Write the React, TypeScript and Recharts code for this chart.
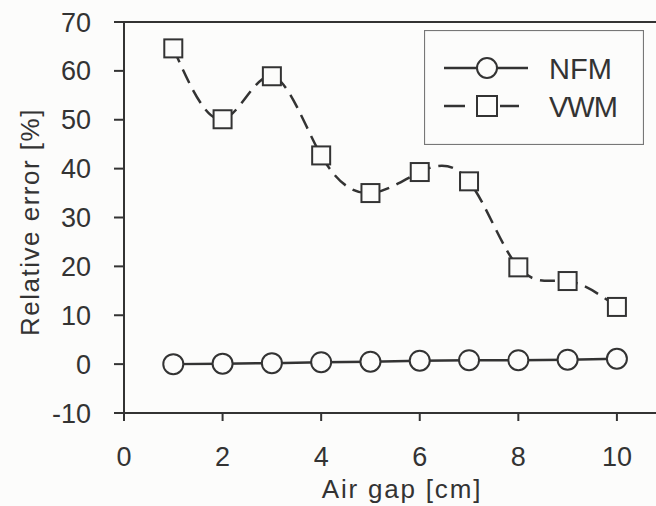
import React from 'react';
import { LineChart, Line, XAxis, YAxis, ReferenceLine, Legend } from 'recharts';

const airGap = [1, 2, 3, 4, 5, 6, 7, 8, 9, 10];
const nfm = [0, 0.1, 0.2, 0.4, 0.5, 0.7, 0.8, 0.8, 0.9, 1.1];
const vwm = [64.6, 50.1, 58.9, 42.7, 35.0, 39.3, 37.4, 19.8, 17.0, 11.7];
const xTicks = [0, 2, 4, 6, 8, 10];
const yTicks = [-10, 0, 10, 20, 30, 40, 50, 60, 70];

const data = airGap.map((x, i) => ({ x, NFM: nfm[i], VWM: vwm[i] }));

const ink = '#333';
const font = '"Liberation Sans", Arial, sans-serif';

const SquareDot = (props: any) => {
  const { cx, cy, index } = props;
  if (cx == null || cy == null) return null;
  return <rect key={`sq-${index}`} x={cx - 9} y={cy - 9} width={18} height={18} fill="#fcfcfb" stroke={ink} strokeWidth={2} />;
};

const LegendBox = () => (
  <svg width={220} height={115} style={{ display: 'block' }}>
    <rect x={0.5} y={0.5} width={219} height={114} fill="none" stroke="#777" strokeWidth={1.2} />
    <line x1={20} y1={38} x2={104} y2={38} stroke={ink} strokeWidth={2.5} />
    <circle cx={63} cy={38} r={10} fill="#fcfcfb" stroke={ink} strokeWidth={2} />
    <text x={125} y={49} fontSize={29} fill={ink} fontFamily={font}>NFM</text>
    <line x1={20} y1={76} x2={41} y2={76} stroke={ink} strokeWidth={2.5} />
    <line x1={76} y1={76} x2={95} y2={76} stroke={ink} strokeWidth={2.5} />
    <rect x={53} y={66} width={20} height={20} fill="#fcfcfb" stroke={ink} strokeWidth={2} />
    <text x={125} y={87} fontSize={29} fill={ink} fontFamily={font} letterSpacing={-1}>VWM</text>
  </svg>
);

export default function App() {
  return (
    <div style={{ position: 'absolute', left: 0, top: 0, width: 656, height: 506, overflow: 'hidden', background: '#fcfcfb' }}>
      <LineChart width={690} height={506} data={data} margin={{ top: 22, right: 10, left: 0, bottom: 0 }}>
        <XAxis
          dataKey="x"
          type="number"
          domain={[0, 11.28]}
          ticks={xTicks}
          tickSize={8}
          tickMargin={26}
          height={93}
          stroke={ink}
          strokeWidth={2}
          tick={{ fill: ink, fontSize: 27, fontFamily: font }}
          label={{ value: 'Air gap [cm]', position: 'insideBottom', offset: 8, fill: ink, fontSize: 26, fontFamily: font, letterSpacing: 1.8 }}
        />
        <YAxis
          type="number"
          domain={[-10, 70]}
          ticks={yTicks}
          width={124}
          tickSize={10}
          tickMargin={16}
          stroke={ink}
          strokeWidth={2}
          tick={{ fill: ink, fontSize: 27, fontFamily: font, dx: -7 }}
          label={{
            content: () => (
              <text x={39} y={222} transform="rotate(-90 39 222)" textAnchor="middle" fill={ink} fontSize={26} fontFamily={font} letterSpacing={1.5}>
                Relative error [%]
              </text>
            ),
          }}
        />
        <ReferenceLine y={70} stroke={ink} strokeWidth={2} />
        <Legend layout="vertical" align="center" verticalAlign="middle" wrapperStyle={{ left: 424, top: 30, width: 220, height: 115 }} content={() => <LegendBox />} />
        <Line
          dataKey="NFM"
          type="linear"
          stroke={ink}
          strokeWidth={2.5}
          dot={{ r: 10, fill: '#fcfcfb', stroke: ink, strokeWidth: 2 }}
          isAnimationActive={false}
        />
        <Line
          dataKey="VWM"
          type="natural"
          stroke={ink}
          strokeWidth={2.5}
          strokeDasharray="15 8"
          dot={SquareDot}
          isAnimationActive={false}
        />
      </LineChart>
    </div>
  );
}
